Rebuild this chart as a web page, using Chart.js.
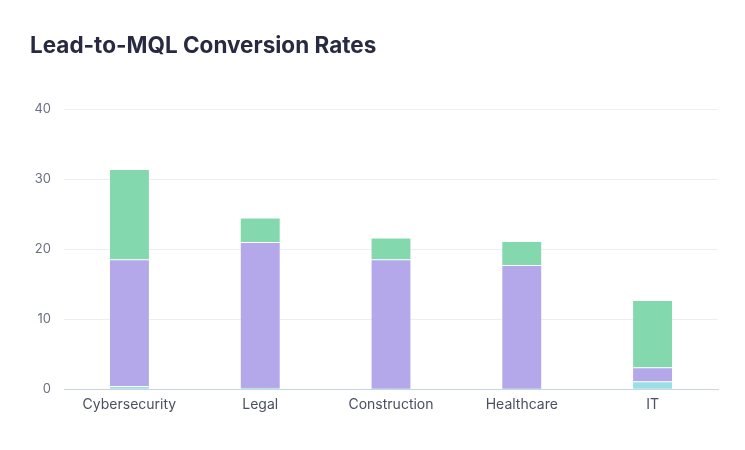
<!DOCTYPE html>
<html>
<head>
<meta charset="utf-8">
<script src="https://cdn.jsdelivr.net/npm/chart.js@4.4.1/dist/chart.umd.min.js"></script>
<style>
    html, body { margin: 0; padding: 0; background: #ffffff; }
    #wrap { width: 745px; height: 450px; position: relative; }
</style>
</head>
<body>
<div id="wrap"><canvas id="conversionChart" width="745" height="450"></canvas></div>
<script>
const industries = ['Cybersecurity', 'Legal', 'Construction', 'Healthcare', 'IT'];
const bottomSeries = [0.4, 0.15, 0, 0, 1.1];
const middleSeries = [18.1, 20.8, 18.5, 17.7, 2.0];
const topSeries = [12.9, 3.5, 3.1, 3.4, 9.6];
const yTicks = [0, 10, 20, 30, 40];

document.addEventListener('DOMContentLoaded', () => {
    const ctx = document.getElementById('conversionChart').getContext('2d');
    const segmentBorder = { top: 1, left: 0, right: 0, bottom: 0 };

    new Chart(ctx, {
        type: 'bar',
        data: {
            labels: industries,
            datasets: [
                { label: 'Segment A', data: bottomSeries, backgroundColor: '#9bdfe6', borderColor: '#ffffff', borderWidth: segmentBorder, borderSkipped: false },
                { label: 'Segment B', data: middleSeries, backgroundColor: '#b4a8eb', borderColor: '#ffffff', borderWidth: segmentBorder, borderSkipped: false },
                { label: 'Segment C', data: topSeries, backgroundColor: '#83d9ad', borderColor: '#ffffff', borderWidth: segmentBorder, borderSkipped: false }
            ]
        },
        options: {
            responsive: false,
            animation: false,
            barThickness: 39,
            layout: { padding: { left: 30, right: 27, top: 33, bottom: 30 } },
            plugins: {
                legend: { display: false },
                tooltip: { enabled: false },
                title: {
                    display: true,
                    text: 'Lead-to-MQL Conversion Rates',
                    align: 'start',
                    color: '#272a40',
                    font: { family: 'Inter', size: 22.5, weight: '700' },
                    padding: { top: 0, bottom: 49 }
                }
            },
            scales: {
                x: {
                    stacked: true,
                    grid: { display: false, drawTicks: false },
                    border: { color: '#ccd4e2', width: 1 },
                    ticks: { color: '#4a4f63', font: { family: 'Inter', size: 14 }, padding: 7 }
                },
                y: {
                    stacked: true,
                    min: 0,
                    max: 40,
                    afterBuildTicks: axis => { axis.ticks = yTicks.map(v => ({ value: v })); },
                    afterFit: axis => { axis.width = 34; },
                    grid: { color: '#eceef2', drawTicks: false },
                    border: { display: false },
                    ticks: { color: '#6b7082', font: { family: 'Inter', size: 13 }, padding: 13 }
                }
            }
        }
    });
});
</script>
</body>
</html>
